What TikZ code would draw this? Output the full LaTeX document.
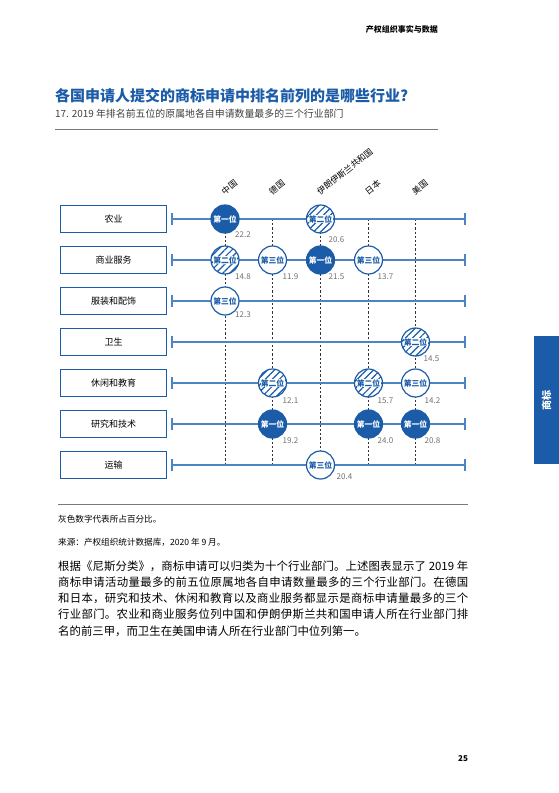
\documentclass[tikz,border=0pt]{standalone}
\usepackage{fontspec}
\setmainfont{Noto Sans CJK SC}
\usetikzlibrary{arrows.meta,patterns.meta}
\XeTeXlinebreaklocale "zh"
\XeTeXlinebreakskip=0pt plus 1pt
\definecolor{wipoblue}{HTML}{1B5CA8}
\definecolor{rowblue}{HTML}{4F84C4}
\definecolor{numgray}{HTML}{707070}
\definecolor{rulegray}{HTML}{7A7A7A}
\newcommand{\onhatch}[1]{{\setlength{\fboxsep}{0.3pt}\colorbox{white}{#1}}}
\tikzset{
  catbox/.style={draw=wipoblue, line width=1.2pt, minimum width=106pt,
    minimum height=27pt, inner sep=0pt, font=\fontsize{9}{10}\selectfont},
  rowline/.style={draw=rowblue, line width=1.6pt,
    {Bar[width=12pt]}-{Bar[width=12pt]}},
  colline/.style={dash pattern=on 2.2pt off 2pt, line width=0.9pt, draw=black!80},
  rank/.style={circle, minimum size=28pt, inner sep=0pt, draw=wipoblue,
    line width=1.2pt, font=\fontsize{7.8}{8}\selectfont\bfseries},
  firstpl/.style={rank, fill=wipoblue, text=white},
  secondpl/.style={rank, fill=white, text=wipoblue,
    postaction={pattern={Lines[angle=45,distance=5pt,line width=1.2pt]},
      pattern color=wipoblue}},
  thirdpl/.style={rank, fill=white, text=wipoblue},
  pct/.style={text=numgray, font=\fontsize{8}{9}\selectfont, inner sep=0pt},
  country/.style={rotate=38, anchor=south west, inner sep=0pt,
    font=\fontsize{8.5}{9}\selectfont}
}
\begin{document}
\begin{tikzpicture}[x=1pt, y=-1pt]
  \useasboundingbox (0,0) rectangle (559,793);
  % header and titles
  \node[anchor=east, inner sep=0pt, font=\fontsize{8}{9}\selectfont\bfseries] (hdr) at (438,29) {产权组织事实与数据};
  \node[anchor=west, inner sep=0pt, text=wipoblue, font=\fontsize{15}{17}\selectfont\bfseries] (title) at (55,96)
    {各国申请人提交的商标申请中排名前列的是哪些行业?};
  \node[anchor=west, inner sep=0pt, text=black!75, font=\fontsize{9.9}{11}\selectfont] (subtitle) at (55,114)
    {17. 2019 年排名前五位的原属地各自申请数量最多的三个行业部门};
  \draw[rulegray, line width=1pt] (55,129) -- (438,129);

  % countries
  \foreach \cx/\cname [count=\k] in {225/中国, 272.5/德国, 320.5/伊朗伊斯兰共和国, 368.5/日本, 415.5/美国} {
    \coordinate (ct-\k) at (\cx,219);
    \coordinate (cb-\k) at (\cx,465);
    \node[country] (cl-\k) at (\cx,196) {\cname};
    \draw[colline] (ct-\k) -- (cb-\k);
  }

  % sectors
  \foreach \lab [count=\i] in {农业, 商业服务, 服装和配饰, 卫生, 休闲和教育, 研究和技术, 运输} {
    \pgfmathsetmacro{\ry}{219+41*(\i-1)}
    \node[catbox] (cat-\i) at (113.5,\ry) {\lab};
    \coordinate (rs-\i) at (171,\ry);
    \coordinate (re-\i) at (466,\ry);
    \draw[rowline] (rs-\i) -- (re-\i);
  }

  % top three per country
  \foreach \c/\r/\sty/\txt/\val/\dx/\dy in {
      1/1/firstpl/第一位/22.2/18/16, 1/2/secondpl/\onhatch{第二位}/14.8/18/17, 1/3/thirdpl/第三位/12.3/18/14,
      2/2/thirdpl/第三位/11.9/18/17, 2/5/secondpl/\onhatch{第二位}/12.1/18/18, 2/6/firstpl/第一位/19.2/18/17,
      3/1/secondpl/\onhatch{第二位}/20.6/16/21, 3/2/firstpl/第一位/21.5/16/17, 3/7/thirdpl/第三位/20.4/24/12,
      4/2/thirdpl/第三位/13.7/17/17, 4/5/secondpl/\onhatch{第二位}/15.7/17/18, 4/6/firstpl/第一位/24.0/17/17,
      5/4/secondpl/\onhatch{第二位}/14.5/16/17, 5/5/thirdpl/第三位/14.2/17/18, 5/6/firstpl/第一位/20.8/17/17} {
    \node[\sty] (m-\c-\r) at (ct-\c |- rs-\r) {\txt};
    \node[pct] (p-\c-\r) at ([shift={(\dx,\dy)}]m-\c-\r.center) {\val};
  }

  % notes and text
  \draw[rulegray, line width=1pt] (58,504) -- (468,504);
  \node[anchor=west, inner sep=0pt, font=\fontsize{8.6}{9}\selectfont] (note) at (58,519) {灰色数字代表所占百分比。};
  \node[anchor=west, inner sep=0pt, font=\fontsize{8.6}{9}\selectfont] (source) at (58,542) {来源：产权组织统计数据库，2020 年 9 月。};
  \node[anchor=north west, inner sep=0pt, text width=410pt, align=justify, font=\fontsize{11.4}{16.2}\selectfont] (body) at (58,560.5)
    {根据《尼斯分类》，商标申请可以归类为十个行业部门。上述图表显示了 2019 年\linebreak
     商标申请活动量最多的前五位原属地各自申请数量最多的三个行业部门。在德国\linebreak
     和日本，研究和技术、休闲和教育以及商业服务都显示是商标申请量最多的三个\linebreak
     行业部门。农业和商业服务位列中国和伊朗伊斯兰共和国申请人所在行业部门排\linebreak
     名的前三甲，而卫生在美国申请人所在行业部门中位列第一。};

  % side tab and page number
  \node[fill=wipoblue, minimum width=25pt, minimum height=128pt, inner sep=0pt] (tab) at (546.5,400) {};
  \node[rotate=90, text=white, inner sep=0pt, font=\fontsize{10}{11}\selectfont\bfseries] (tabtxt) at (tab.center) {商标};
  \node[inner sep=0pt, font=\fontsize{8}{9}\selectfont\bfseries] (pg) at (463,759) {25};
\end{tikzpicture}
\end{document}
